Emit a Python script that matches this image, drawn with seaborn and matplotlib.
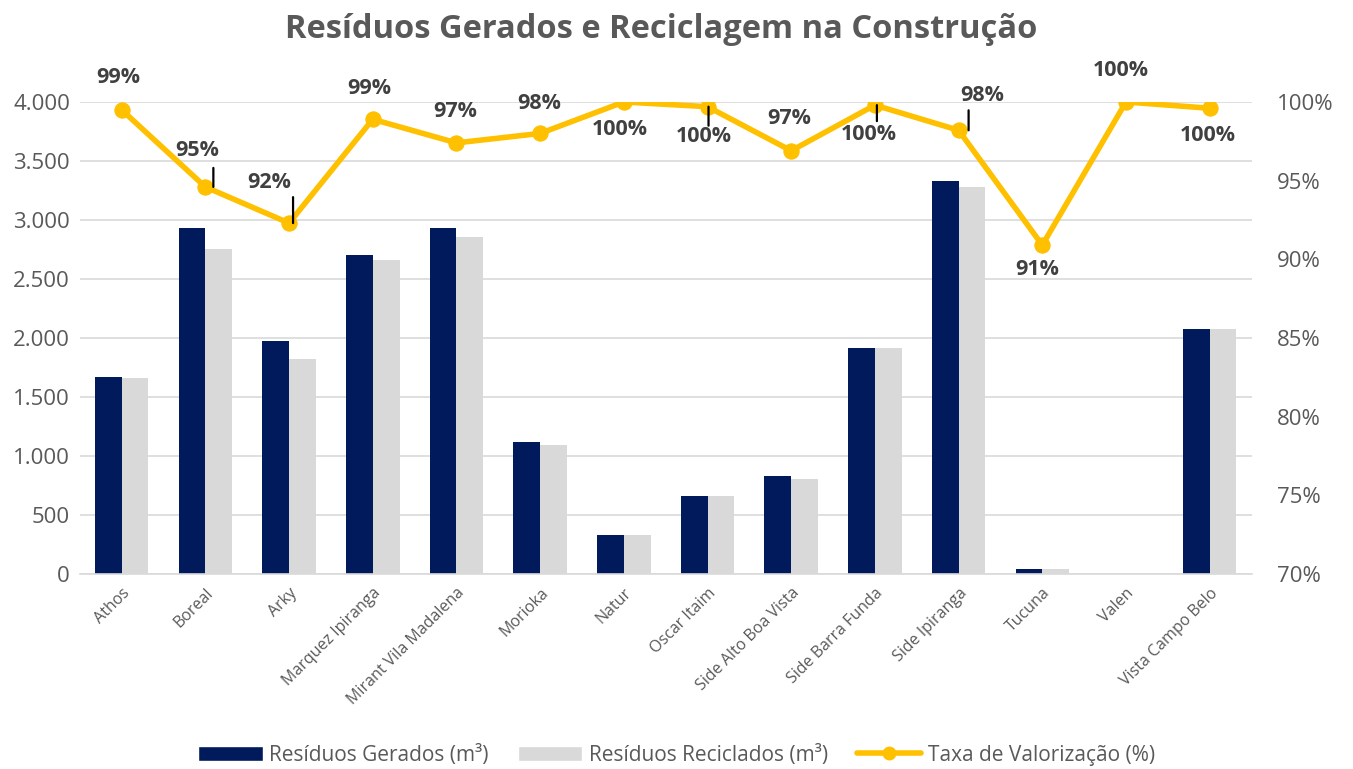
import numpy as np
import pandas as pd
import matplotlib
matplotlib.use("Agg")
import matplotlib.pyplot as plt
import matplotlib.transforms as mtransforms
from matplotlib.ticker import FuncFormatter, PercentFormatter
from matplotlib.lines import Line2D
from matplotlib.patches import Patch
import seaborn as sns

# ---------------- data ----------------
empreendimentos = ["Athos", "Boreal", "Arky", "Marquez Ipiranga", "Mirant Vila Madalena",
                   "Morioka", "Natur", "Oscar Itaim", "Side Alto Boa Vista",
                   "Side Barra Funda", "Side Ipiranga", "Tucuna", "Valen", "Vista Campo Belo"]
residuos_gerados = [1670, 2930, 1975, 2705, 2930, 1120, 330, 660, 830, 1915, 3330, 42, 0, 2075]
residuos_reciclados = [1665, 2755, 1820, 2660, 2855, 1095, 330, 660, 805, 1915, 3280, 40, 0, 2075]
taxa_valorizacao = [99.5, 94.6, 92.3, 98.9, 97.4, 98.0, 100.0, 99.7, 96.9, 99.8, 98.2, 90.9, 100.0, 99.6]
taxa_rotulos = ["99%", "95%", "92%", "99%", "97%", "98%", "100%", "100%", "97%", "100%", "98%", "91%", "100%", "100%"]

serie_ger = "Resíduos Gerados (m³)"
serie_rec = "Resíduos Reciclados (m³)"
serie_taxa = "Taxa de Valorização (%)"

df = pd.DataFrame({
    "Empreendimento": empreendimentos * 2,
    "Valor": residuos_gerados + residuos_reciclados,
    "Série": [serie_ger] * len(empreendimentos) + [serie_rec] * len(empreendimentos),
})

# ---------------- style ----------------
sns.set_theme(style="white")
plt.rcParams["font.family"] = ["Open Sans", "DejaVu Sans"]

c_ger = "#001A5C"
c_rec = "#D9D9D9"
c_line = "#FFC000"
c_text = "#595959"

fig = plt.figure(figsize=(13.53, 7.69), dpi=100)
ax = fig.add_axes([0.059, 0.2536, 0.866, 0.6138])

sns.barplot(data=df, x="Empreendimento", y="Valor", hue="Série",
            palette=[c_ger, c_rec], width=0.64, ax=ax, legend=False,
            saturation=1, errorbar=None, linewidth=0)

ax.set_ylim(0, 4000)
ax.set_xlim(-0.5, len(empreendimentos) - 0.5)
ax.set_yticks(np.arange(0, 4001, 500))
ax.yaxis.set_major_formatter(FuncFormatter(lambda v, p: f"{int(v):,}".replace(",", ".")))
ax.grid(axis="y", color="#D9D9D9", lw=1.2)
ax.set_axisbelow(True)
ax.set_xlabel("")
ax.set_ylabel("")
for s in ["top", "right", "left"]:
    ax.spines[s].set_visible(False)
ax.spines["bottom"].set_color("#D9D9D9")
ax.spines["bottom"].set_linewidth(1.2)
ax.tick_params(axis="y", labelsize=16, labelcolor=c_text, length=0, pad=7)
ax.tick_params(axis="x", length=0, pad=8)
ax.set_xticks(range(len(empreendimentos)))
ax.set_xticklabels(empreendimentos, rotation=45, ha="right", rotation_mode="anchor",
                   fontsize=11.5, color=c_text)

# ---------------- line on secondary axis ----------------
ax2 = ax.twinx()
x_pos = np.arange(len(empreendimentos))
sns.lineplot(x=x_pos, y=taxa_valorizacao, ax=ax2, color=c_line, lw=4,
             marker="o", markersize=11, markeredgecolor=c_line, legend=False)
ax2.set_ylim(70, 100)
ax2.set_yticks(np.arange(70, 101, 5))
ax2.yaxis.set_major_formatter(PercentFormatter(decimals=0))
ax2.tick_params(axis="y", labelsize=16, labelcolor=c_text, length=0, pad=18)
ax2.set_xlim(-0.5, len(empreendimentos) - 0.5)
ax2.grid(False)
ax2.set_ylabel("")
for s in ["top", "right", "left", "bottom"]:
    ax2.spines[s].set_visible(False)

# data labels (offsets in pixels)
label_offsets = [(-3, 32), (-8, 36), (-20, 41), (-4, 31), (-1, 31), (-1, 30), (-4, -28),
                 (-4, -30), (-2, 32), (-6, -29), (24, 35), (-5, -24), (-5, 31), (-2, -27)]
for i, (v, lab) in enumerate(zip(taxa_valorizacao, taxa_rotulos)):
    dx, dy = label_offsets[i]
    ax2.annotate(lab, xy=(i, v), xytext=(dx, dy), textcoords="offset pixels",
                 ha="center", va="center", fontsize=15.5, fontweight="bold",
                 color="#404040", annotation_clip=False)

# leader lines: (index, x offset px, length px)
leaders = [(1, 8, 19), (2, 4, 26), (7, 1, -19), (9, 2, -16), (10, 10, 20)]
for i, ox, ln in leaders:
    tr = mtransforms.offset_copy(ax2.transData, fig=fig, x=ox, y=0, units="dots")
    ax2.annotate("", xy=(i, taxa_valorizacao[i]), xycoords=tr,
                 xytext=(0, ln), textcoords="offset pixels",
                 arrowprops=dict(arrowstyle="-", color="black", lw=1.6,
                                 shrinkA=0, shrinkB=0))

# ---------------- title & legend ----------------
fig.text(0.489, 0.962, "Resíduos Gerados e Reciclagem na Construção", ha="center",
         va="center", fontsize=23.5, fontweight="bold", color=c_text)

handles = [Patch(facecolor=c_ger, label=serie_ger),
           Patch(facecolor=c_rec, label=serie_rec),
           Line2D([0], [0], color=c_line, lw=4, marker="o", markersize=9, label=serie_taxa)]
fig.legend(handles=handles, loc="center", bbox_to_anchor=(0.5, 0.018), ncol=3,
           frameon=False, fontsize=15, handlelength=3.1, handleheight=0.75,
           columnspacing=1.4, handletextpad=0.3, labelcolor=c_text)

fig.savefig("out.png", dpi=100)
